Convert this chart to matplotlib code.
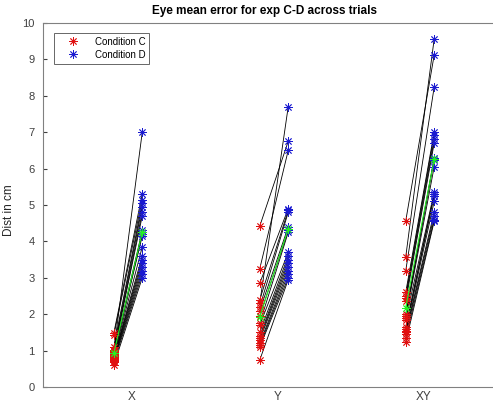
import matplotlib
matplotlib.use("Agg")
import matplotlib.pyplot as plt
import numpy as np

plt.rcParams['font.family'] = ['Liberation Sans', 'DejaVu Sans']

categories = ["X", "Y", "XY"]

# per-subject distances (cm), paired by index: condition C -> condition D
x_cond_c = [1.00, 1.48, 1.42, 1.10, 1.02, 0.98, 0.95, 0.92, 0.90, 0.88,
            0.85, 0.82, 0.80, 0.78, 0.75, 0.72, 0.68, 0.60]
x_cond_d = [7.00, 5.30, 5.15, 5.05, 4.95, 4.80, 4.70, 4.30, 4.20, 4.15,
            3.85, 3.60, 3.50, 3.40, 3.30, 3.20, 3.10, 3.00]

y_cond_c = [4.42, 3.25, 2.30, 2.85, 2.40, 2.20, 2.10, 1.95, 1.75, 1.70,
            1.50, 1.40, 1.35, 1.30, 1.20, 1.15, 1.10, 0.74]
y_cond_d = [6.75, 6.50, 7.70, 4.90, 4.85, 4.80, 4.40, 4.30, 4.25, 3.70,
            3.60, 3.50, 3.40, 3.30, 3.20, 3.10, 3.00, 2.95]

xy_cond_c = [3.57, 4.56, 3.19, 2.60, 2.50, 2.45, 2.35, 2.00, 1.95, 1.90,
             1.85, 1.65, 1.60, 1.55, 1.50, 1.45, 1.35, 1.23]
xy_cond_d = [9.56, 9.12, 8.24, 7.00, 6.92, 6.80, 6.70, 6.30, 6.25, 6.05,
             5.35, 5.30, 5.25, 5.10, 4.80, 4.70, 4.60, 4.55]

cond_c = [x_cond_c, y_cond_c, xy_cond_c]
cond_d = [x_cond_d, y_cond_d, xy_cond_d]

# asterisk marker: eight arms (plus and cross combined)
AST = (8, 2, 0)
mk = dict(marker=AST, markersize=6, markeredgewidth=0.6, linestyle='none')

fig = plt.figure(figsize=(4.93, 4.03), dpi=100)
W, H = 493, 403
ax = fig.add_axes([43 / W, 16 / H, 470 / W, 364 / H])

off_c, off_d = -0.125, 0.07
for i, (c, d) in enumerate(zip(cond_c, cond_d)):
    pos = i + 1
    xc, xd = pos + off_c, pos + off_d
    for vc, vd in zip(c, d):
        ax.plot([xc, xd], [vc, vd], color='black', lw=0.6, zorder=2)
    ax.plot([xc] * len(c), c, color='#e01010', markeredgecolor='#e01010',
            zorder=3, **mk)
    ax.plot([xd] * len(d), d, color='#1a1ad0', markeredgecolor='#1a1ad0',
            zorder=3, **mk)
    mc, md = np.mean(c), np.mean(d)
    ax.plot([xc, xd], [mc, md], color='#22ee22', lw=0.8, zorder=4)
    ax.plot([xc, xd], [mc, md], color='#22ee22', markeredgecolor='#22ee22',
            zorder=4, **mk)

ax.set_xlim(0.39, 3.61)
ax.set_ylim(0, 10)
ax.set_xticks([1, 2, 3])
ax.set_xticklabels(categories)
ax.set_yticks(range(0, 11))
ax.tick_params(axis='y', direction='in', length=3, colors='#404040',
               labelsize=8, pad=6)
ax.tick_params(axis='x', length=0, colors='#404040', labelsize=8.5, pad=3)
for s in ax.spines.values():
    s.set_color('#808080')
    s.set_linewidth(0.8)

ax.set_ylabel("Dist in cm", fontsize=8.5, color='#262626')
ax.yaxis.set_label_coords(-(43 - 15) / 470, (387 - 210) / 364)
fig.text(265 / W, 1 - 11 / H, "Eye mean error for exp C-D across trials",
         ha='center', va='center', fontsize=8.5, fontweight='bold')

h1, = ax.plot([], [], color='#e01010', markeredgecolor='#e01010', **mk)
h2, = ax.plot([], [], color='#1a1ad0', markeredgecolor='#1a1ad0', **mk)
leg = ax.legend([h1, h2], ["Condition C", "Condition D"], loc='upper left',
                bbox_to_anchor=(11 / 470, 1 - 10 / 364), borderaxespad=0,
                fontsize=7, frameon=True, fancybox=False, borderpad=0.4,
                handletextpad=0.6, labelspacing=0.3, handlelength=3.2)
leg.get_frame().set_edgecolor('#404040')
leg.get_frame().set_linewidth(0.7)

fig.savefig("out.png", dpi=100)
